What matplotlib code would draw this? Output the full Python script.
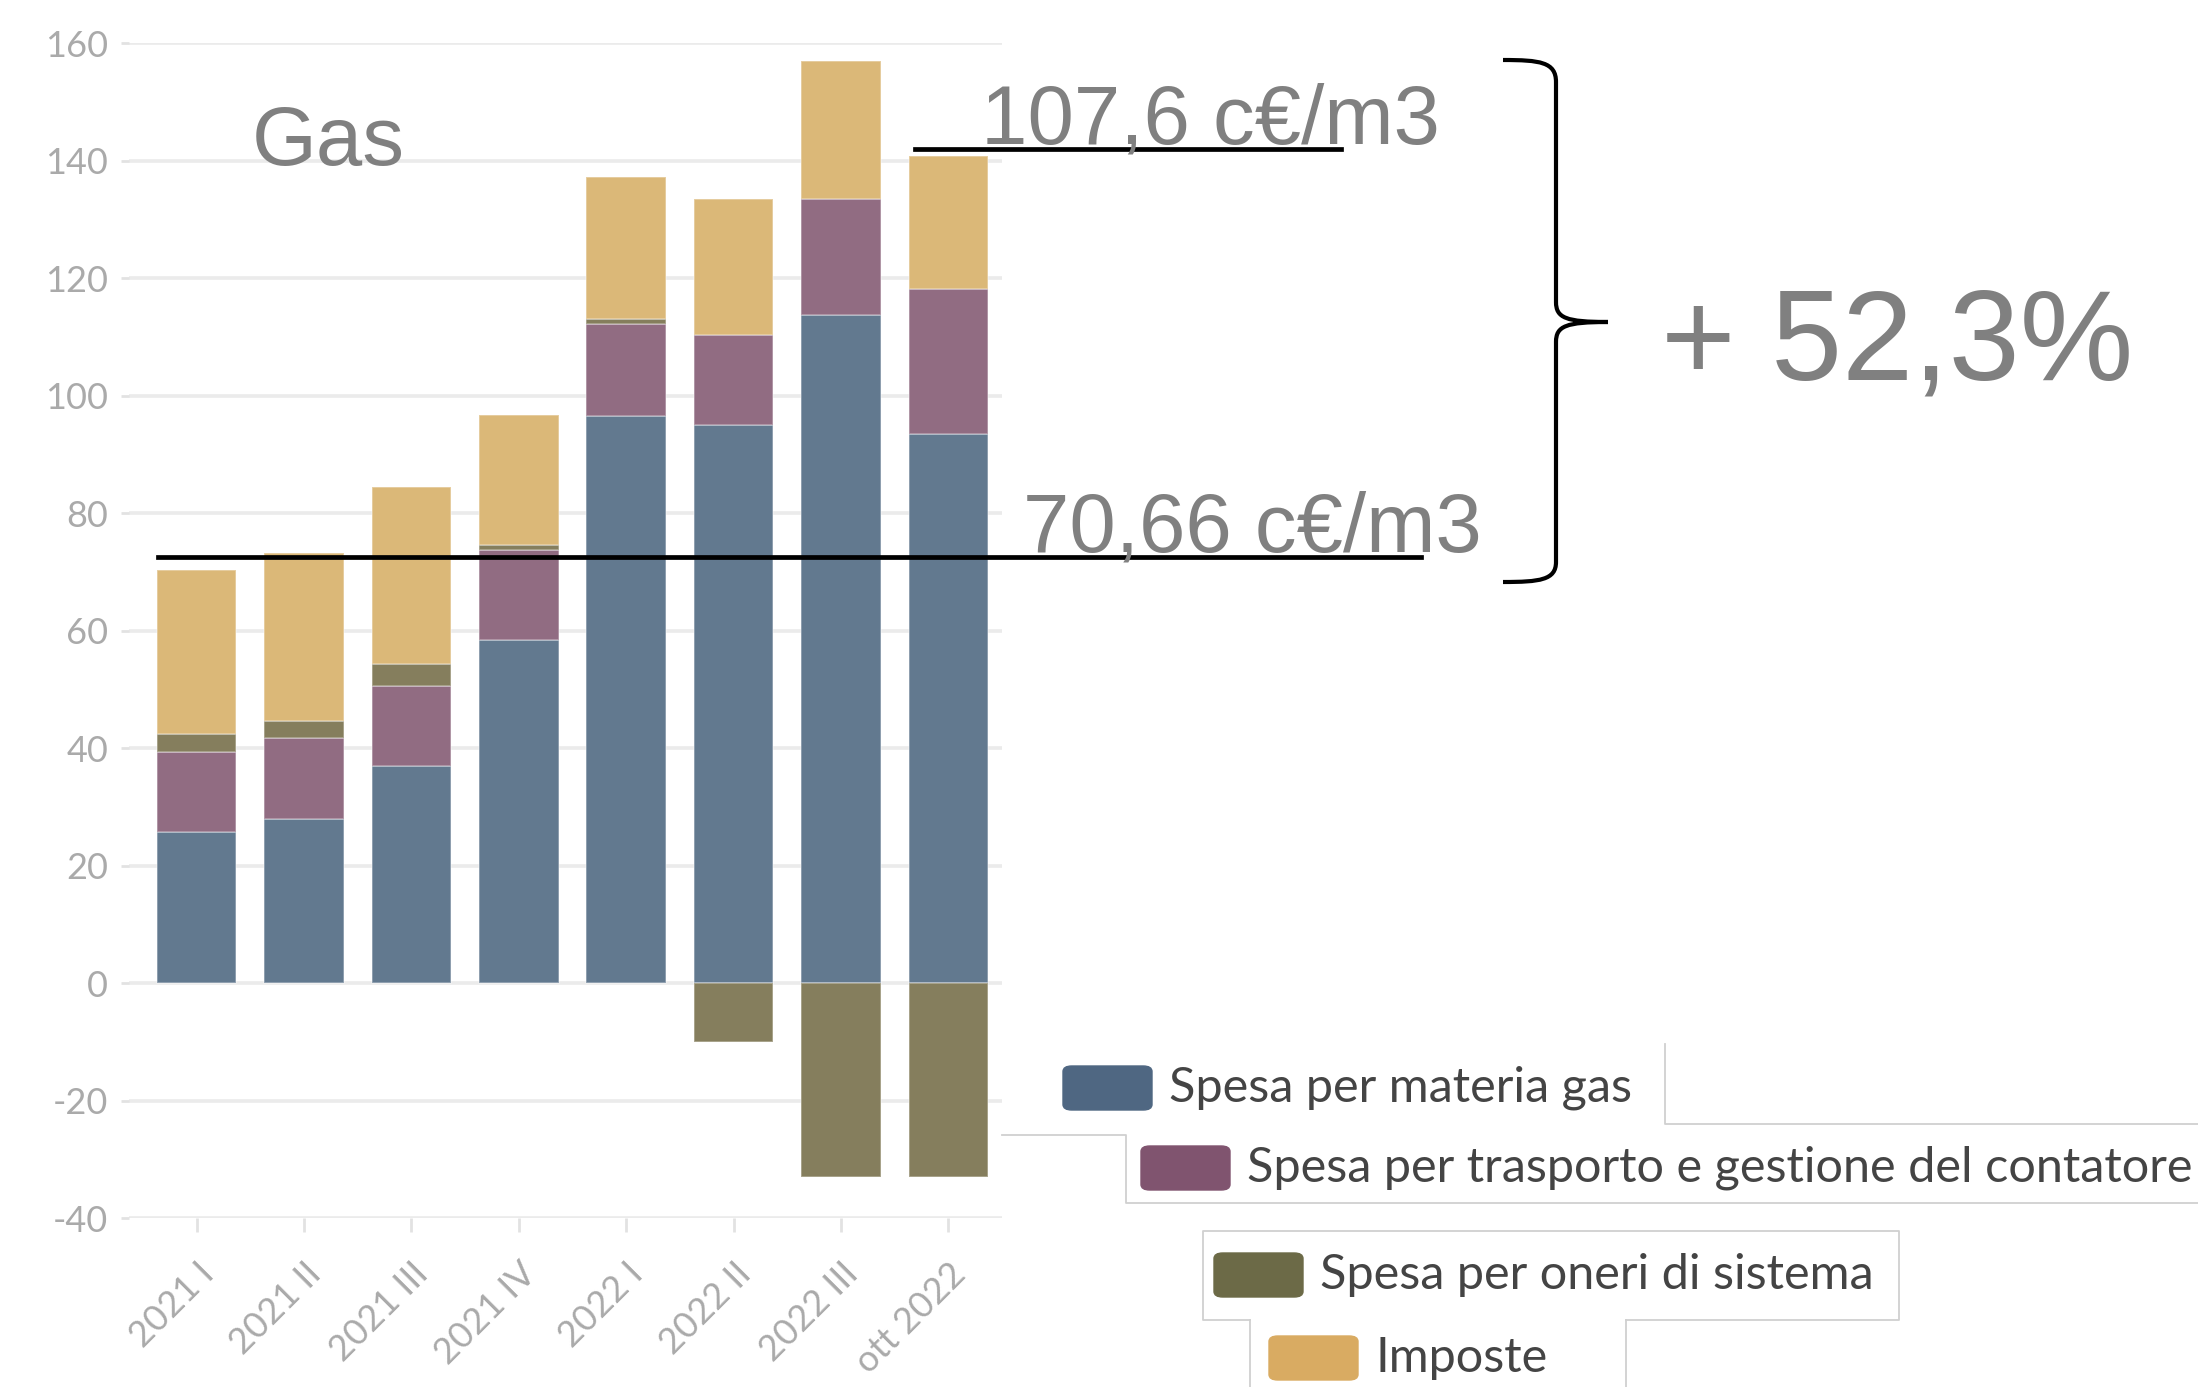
import matplotlib
matplotlib.use("Agg")
import matplotlib.pyplot as plt
import numpy as np
from matplotlib.path import Path
from matplotlib.patches import PathPatch, FancyBboxPatch
from matplotlib.lines import Line2D

plt.rcParams['axes.unicode_minus'] = False

# data (c€/m3)
periodi = ['2021 I', '2021 II', '2021 III', '2021 IV', '2022 I', '2022 II', '2022 III', 'ott 2022']
materia = [25.7, 28.0, 36.9, 58.5, 96.6, 95.0, 113.8, 93.5]
trasporto = [13.7, 13.7, 13.7, 15.3, 15.6, 15.4, 19.8, 24.7]
oneri = [3.0, 2.9, 3.7, 0.8, 0.9, -10.0, -33.1, -33.1]
imposte = [28.0, 28.7, 30.1, 22.1, 24.1, 23.2, 23.4, 22.6]

nomi = ['Spesa per materia gas', 'Spesa per trasporto e gestione del contatore',
        'Spesa per oneri di sistema', 'Imposte']
col_bar = ['#62798f', '#916c82', '#857e5d', '#dbb878']
col_leg = ['#4f6782', '#80546f', '#6c6a47', '#d9ab62']

# reference lines (level drawn on the chart)
livello_prima = 72.6
livello_dopo = 142.1

W, H = 2198, 1387
fig = plt.figure(figsize=(W / 100, H / 100), dpi=100)
ax = fig.add_axes([129 / W, 1 - 1218 / H, (1002 - 129) / W, (1218 - 43.5) / H])

x = np.arange(len(periodi))
larg = 0.74
edge = dict(edgecolor=(1, 1, 1, 0.35), linewidth=1.2)

ax.bar(x, materia, larg, color=col_bar[0], zorder=3, **edge)
ax.bar(x, trasporto, larg, bottom=materia, color=col_bar[1], zorder=3, **edge)
base = np.array(materia) + np.array(trasporto)
on = np.array(oneri)
ax.bar(x, on, larg, bottom=np.where(on > 0, base, 0), color=col_bar[2], zorder=3, **edge)
top = base + np.where(on > 0, on, 0)
ax.bar(x, imposte, larg, bottom=top, color=col_bar[3], zorder=3, **edge)

ax.set_xlim(-0.63, 7.5)
ax.set_ylim(-40, 160)
ax.set_yticks(np.arange(-40, 161, 20))
ax.set_xticks(x)
ax.set_xticklabels(periodi, rotation=45, ha='right', rotation_mode='anchor')
for s in ax.spines.values():
    s.set_visible(False)
ax.grid(axis='y', color='#ebebeb', linewidth=2.6, zorder=0)
ax.tick_params(axis='y', length=6, width=2, color='#e2e2e2', pad=9,
               labelsize=26, labelcolor='#aaaaaa')
ax.tick_params(axis='x', length=10, width=2, color='#e2e2e2', pad=18,
               labelsize=26, labelcolor='#aaaaaa')
for lab in ax.get_xticklabels() + ax.get_yticklabels():
    lab.set_family('Lato')

# annotation lines
ax.plot([-0.36, 11.4], [livello_prima, livello_prima], color='black', lw=3.4, clip_on=False, zorder=5)
ax.plot([6.69, 10.66], [livello_dopo, livello_dopo], color='black', lw=3.4, clip_on=False, zorder=5)


def fx(px):
    return px / W


def fy(py):
    return 1 - py / H


grigio = '#808080'
fig.text(fx(252), fy(165), 'Gas', fontsize=60, color=grigio, family='Liberation Sans', va='baseline')
fig.text(fx(981), fy(144), '107,6 c€/m3', fontsize=60, color=grigio, family='Liberation Sans', va='baseline')
fig.text(fx(1023), fy(551), '70,66 c€/m3', fontsize=60, color=grigio, family='Liberation Sans', va='baseline')
fig.text(fx(1661), fy(380), '+ 52,3%', fontsize=92, color=grigio, family='Liberation Sans', va='baseline')

# curly brace
pts = [(1503, 60), (1540, 60), (1556, 62), (1556, 82),
       (1556, 302),
       (1556, 318), (1566, 322), (1608, 322),
       (1566, 322), (1556, 326), (1556, 342),
       (1556, 562),
       (1556, 580), (1540, 582), (1503, 582)]
codes = [Path.MOVETO, Path.CURVE4, Path.CURVE4, Path.CURVE4,
         Path.LINETO,
         Path.CURVE4, Path.CURVE4, Path.CURVE4,
         Path.CURVE4, Path.CURVE4, Path.CURVE4,
         Path.LINETO,
         Path.CURVE4, Path.CURVE4, Path.CURVE4]
brace = Path([(fx(a), fy(b)) for a, b in pts], codes)
fig.patches.append(PathPatch(brace, transform=fig.transFigure, fill=False, lw=3, color='black'))

# legend, drawn as separate boxes like the reference
leg_pos = [(1063, 1088), (1141, 1168), (1214, 1275), (1269, 1358)]
for (px, py), nome, c in zip(leg_pos, nomi, col_leg):
    fig.patches.append(FancyBboxPatch((fx(px), fy(py + 22)), 89 / W, 44 / H,
                                      boxstyle='round,pad=0,rounding_size=0.004',
                                      transform=fig.transFigure, color=c))
    fig.text(fx(px + 106), fy(py), nome, fontsize=35, color='#444444', family='Lato', va='center')

bordi = [
    [(1665, 1044), (1665, 1124), (2198, 1124)],
    [(1002, 1135), (1126, 1135), (1126, 1203), (2198, 1203)],
    [(1250, 1320), (1203, 1320), (1203, 1231), (1899, 1231), (1899, 1320), (1626, 1320)],
    [(1250, 1320), (1250, 1387)],
    [(1626, 1320), (1626, 1387)],
]
for b in bordi:
    xs, ys = zip(*b)
    fig.lines.append(Line2D([fx(v) for v in xs], [fy(v) for v in ys], color='#d0d0d0',
                            lw=1.3, transform=fig.transFigure))

fig.savefig('out.png', dpi=100)
